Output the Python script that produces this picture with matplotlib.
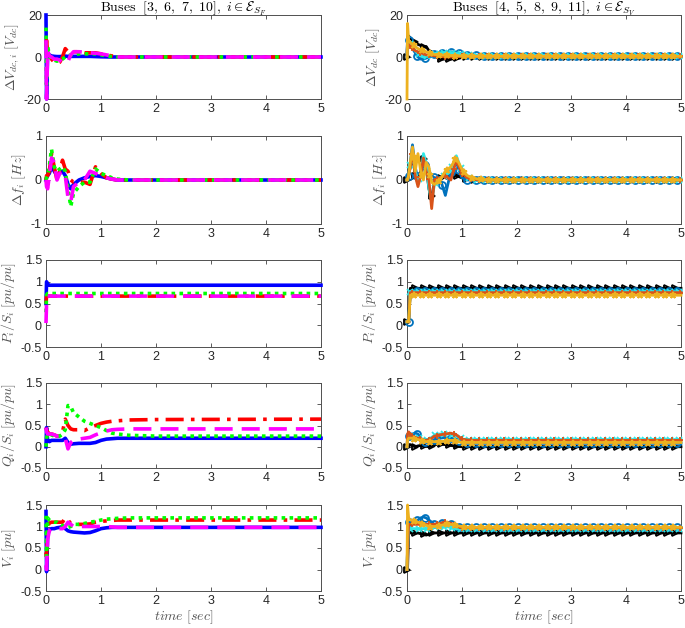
import numpy as np
import matplotlib
matplotlib.use("Agg")
import matplotlib.pyplot as plt

plt.rcParams["font.family"] = ["Liberation Sans", "DejaVu Sans"]
plt.rcParams["mathtext.fontset"] = "cm"

# shared sample times (sec)
t = [0, 0.01, 0.03, 0.06, 0.1, 0.15, 0.2, 0.25, 0.3, 0.35, 0.4, 0.45, 0.5,
     0.6, 0.7, 0.8, 0.9, 1.0, 1.1, 1.2, 1.3, 1.5, 2.0, 5.0]

# ---- left column: buses 3, 6, 7, 10 ----
vdc_b = [20, -20, 2, 1, 0.5, 0.3, 0.2, 0.2, 0.3, 0.4, 0.3, 0.3, 0.3, 0.3, 0.3, 0.3, 0.2, 0.1, 0.05, 0, 0, 0, 0, 0]
vdc_r = [5, 8, 2, 0.5, -1, -2.5, -3, -2.5, 0, 4, 2.5, 2, 2.5, 2.5, 2, 2, 2, 1.5, 1, 0.5, 0, 0, 0, 0]
vdc_g = [14, -13, 5, 1, -1, -1.5, -2, -1.5, -1, 0, 0.5, 1, 1, 1.5, 1.5, 1.5, 1.5, 1, 0.5, 0.2, 0, 0, 0, 0]
vdc_m = [8, -20, 3, 0.5, 0, -1, -1, -1.5, -2.5, -3, -2, 1, 2.5, 2.5, 2.3, 2, 1.8, 1.5, 1, 0.5, 0, 0, 0, 0]

f_b = [0, 0.05, 0.1, 0.15, 0.3, 0.2, 0.1, 0.15, 0.2, 0.1, -0.1, -0.2, -0.1, 0.0, 0.05, 0.08, 0.1, 0.08, 0.05, 0.02, 0, 0, 0, 0]
f_r = [0, 0.1, 0.1, 0.2, 0.6, 0.3, 0, 0.2, 0.45, 0.25, 0.2, 0, -0.05, -0.05, -0.05, -0.1, 0.3, 0.15, 0.05, 0.02, 0, 0, 0, 0]
f_g = [0, 0.05, 0.1, 0.3, 0.7, 0.3, 0.2, 0.25, 0.3, 0.2, -0.2, -0.6, -0.3, -0.15, -0.05, -0.05, 0.25, 0.15, 0.1, 0.05, 0.02, 0, 0, 0]
f_m = [0, -0.15, -0.2, 0.1, 0.5, 0.4, 0, 0.15, 0.2, 0.1, -0.4, -0.5, -0.15, -0.05, 0.0, 0.2, 0.15, 0.1, 0.05, 0.02, 0, 0, 0, 0]

p_b = [0.5, 1.0, 0.95] + [0.92] * 21
p_r = [0.5, 0.67, 0.67] + [0.67] * 21
p_g = [0.3, 0.7, 0.73] + [0.73] * 21
p_m = [0.05, 0.5, 0.67] + [0.67] * 21

q_b = [0, 0.45, 0.15, 0.12, 0.15, 0.15, 0.15, 0.15, 0.15, 0.2, 0.1, 0.06, 0.07, 0.08, 0.08, 0.08, 0.1, 0.15, 0.18, 0.19, 0.2, 0.2, 0.2, 0.2]
q_r = [0.45, 0.4, 0.35, 0.3, 0.3, 0.28, 0.25, 0.25, 0.35, 0.65, 0.5, 0.42, 0.4, 0.4, 0.38, 0.45, 0.5, 0.55, 0.58, 0.6, 0.61, 0.63, 0.64, 0.65]
q_g = [0, 0.2, 0.3, 0.3, 0.28, 0.25, 0.25, 0.25, 0.3, 0.4, 0.97, 0.95, 0.8, 0.7, 0.6, 0.55, 0.5, 0.45, 0.38, 0.32, 0.3, 0.27, 0.25, 0.25]
q_m = [0.45, 0.35, 0.3, 0.3, 0.3, 0.28, 0.25, 0.25, 0.25, 0.2, -0.05, 0.1, 0.15, 0.18, 0.2, 0.22, 0.28, 0.33, 0.37, 0.4, 0.41, 0.42, 0.42, 0.42]

v_b = [1.35, -0.05, 0.8, 0.92, 0.95, 0.95, 0.97, 0.98, 1.0, 0.95, 0.9, 0.88, 0.87, 0.86, 0.85, 0.86, 0.9, 0.95, 0.97, 0.98, 0.98, 0.98, 0.98, 0.98]
v_r = [0.4, 0.3, 1.0, 1.08, 1.1, 1.1, 1.1, 1.1, 1.1, 1.2, 1.15, 1.07, 1.05, 1.05, 1.05, 1.06, 1.1, 1.12, 1.13, 1.14, 1.15, 1.15, 1.15, 1.15]
v_g = [1.25, 0.3, 1.2, 1.15, 1.12, 1.1, 1.1, 1.05, 1.02, 1.0, 0.98, 1.0, 1.05, 1.05, 1.07, 1.1, 1.12, 1.15, 1.17, 1.18, 1.19, 1.2, 1.2, 1.2]
v_m = [0.1, 0.0, 0.7, 0.9, 0.95, 0.95, 0.95, 0.95, 0.95, 1.0, 1.1, 1.05, 1.0, 1.0, 1.0, 1.0, 1.0, 1.0, 1.0, 0.99, 0.98, 0.98, 0.98, 0.98]

# ---- right column: buses 4, 5, 8, 9, 11 ----
vdc_k = [0, 10, 10, 9, 8, 7, 6, 5.5, 5, 5, 3, 2, 1, -1, -1, -1, -0.8, -0.3, 0, 0, 0, 0, 0, 0]
vdc_bl = [0, 8, 8, 6, 4, 2, 0, -1, -1, -0.5, 0, 0.5, 1.5, 2, 2.2, 2.5, 2, 1.5, 1, 1, 0.8, 0.5, 0.5, 0.5]
vdc_c = [0, 7, 7, 6, 5, 3, 1.5, 0.5, 0, 0.5, 1, 1, 1.5, 2, 2, 2, 1.8, 1.2, 1, 0.8, 0.6, 0.5, 0.5, 0.5]
vdc_o = [0, 6, 6, 5, 4, 3, 2.5, 2, 1.5, 1, 1, 0.8, 0.5, 0.3, 0, 0, 0.2, 0.3, 0.3, 0.3, 0.3, 0.3, 0.3, 0.3]
vdc_y = [-20, 16, 8, 7, 6, 5, 4, 3.5, 3, 2.5, 2, 1.5, 1.2, 1, 0.8, 0.7, 0.6, 0.5, 0.4, 0.3, 0.3, 0.3, 0.3, 0.3]

f_k = [0, 0, 0.1, 0.3, 0.6, 0.1, 0, 0.2, 0.5, 0.3, -0.2, -0.45, 0, 0.05, 0.1, 0.1, 0.1, 0.05, 0.02, 0.01, 0, 0, 0, 0]
f_bl = [0, 0, 0.1, 0.4, 0.8, 0.3, 0, 0.1, 0.3, 0.35, 0.2, 0.1, 0.05, 0.05, -0.35, 0.2, 0.4, 0.05, 0, 0, 0, 0, 0, 0]
f_c = [0, 0, 0.1, 0.35, 0.7, 0.2, 0, 0.1, 0.6, 0.4, -0.2, -0.5, -0.1, 0.05, 0.1, 0.2, 0.55, 0.2, 0.05, 0.02, 0, 0, 0, 0]
f_o = [0, 0, 0.1, 0.3, 0.7, 0.1, -0.15, 0.1, 0.5, 0.2, 0, -0.65, 0, 0.05, 0.1, 0.0, 0.45, 0.15, 0.05, 0.02, 0, 0, 0, 0]
f_y = [0, 0, 0.1, 0.4, 0.75, 0.2, 0.6, 0.2, 0, 0.4, 0.3, -0.05, -0.1, 0.0, 0.2, 0.3, 0.5, 0.25, 0.1, 0.05, 0.02, 0, 0, 0]

p_k = [0.08, 0.08, 0.08] + [0.85] * 21
p_bl = [0.08, 0.08, 0.08] + [0.79] * 21
p_c = [0.08, 0.08, 0.08] + [0.77] * 21
p_o = [0.08, 0.08, 0.08] + [0.75] * 21
p_y = [0.08, 0.08, 0.08] + [0.69] * 21

q_k = [0, 0, 0.05, 0.05, 0.02, 0.0, 0.02, 0.03, 0.02, 0.01, 0.0, 0.02, 0.05, 0.06, 0.05, 0.03, 0.01, 0, 0, 0, 0, 0, 0, 0]
q_bl = [0, 0.2, 0.25, 0.28, 0.3, 0.32, 0.3, 0.2, 0.12, 0.1, 0.1, 0.12, 0.17, 0.2, 0.22, 0.2, 0.18, 0.1, 0.08, 0.08, 0.08, 0.08, 0.08, 0.08]
q_c = [0, 0.2, 0.25, 0.25, 0.25, 0.22, 0.2, 0.18, 0.16, 0.15, 0.18, 0.22, 0.27, 0.3, 0.3, 0.3, 0.25, 0.18, 0.17, 0.17, 0.17, 0.17, 0.17, 0.17]
q_o = [0, 0.3, 0.35, 0.3, 0.25, 0.22, 0.2, 0.18, 0.16, 0.15, 0.17, 0.2, 0.25, 0.28, 0.3, 0.32, 0.28, 0.18, 0.16, 0.15, 0.15, 0.15, 0.15, 0.15]
q_y = [0, 0.15, 0.2, 0.2, 0.2, 0.18, 0.17, 0.15, 0.13, 0.12, 0.12, 0.12, 0.12, 0.12, 0.13, 0.15, 0.13, 0.1, 0.1, 0.1, 0.1, 0.1, 0.1, 0.1]

v_k = [0, 0, 0.9, 0.85, 0.85, 0.85, 0.85, 0.83, 0.82, 0.8, 0.82, 0.85, 0.85, 0.85, 0.85, 0.85, 0.85, 0.85, 0.85, 0.85, 0.85, 0.85, 0.85, 0.85]
v_bl = [0, 0.5, 1.1, 1.1, 1.1, 1.15, 1.15, 1.2, 1.22, 1.2, 1.15, 1.1, 1.05, 1.08, 1.1, 1.05, 1.0, 0.98, 0.98, 0.98, 0.98, 0.98, 0.98, 0.98]
v_c = [0, 0.5, 1.0, 0.95, 0.95, 0.95, 0.95, 0.95, 0.95, 0.95, 0.95, 0.98, 1.0, 1.0, 1.0, 0.98, 0.95, 0.95, 0.95, 0.95, 0.95, 0.95, 0.95, 0.95]
v_o = [0, 0.5, 1.05, 1.05, 1.05, 1.05, 1.05, 1.05, 1.05, 1.05, 1.05, 1.05, 1.05, 1.07, 1.1, 1.08, 1.0, 0.97, 0.97, 0.97, 0.97, 0.97, 0.97, 0.97]
v_y = [0, 1.5, 1.2, 1.15, 1.15, 1.12, 1.1, 1.08, 1.05, 1.03, 1.0, 1.0, 1.0, 1.02, 1.05, 1.05, 1.02, 1.0, 0.98, 0.98, 0.98, 0.98, 0.98, 0.98]

left_series = [
    [vdc_b, vdc_r, vdc_g, vdc_m],
    [f_b, f_r, f_g, f_m],
    [p_b, p_r, p_g, p_m],
    [q_b, q_r, q_g, q_m],
    [v_b, v_r, v_g, v_m],
]
right_series = [
    [vdc_k, vdc_bl, vdc_c, vdc_o, vdc_y],
    [f_k, f_bl, f_c, f_o, f_y],
    [p_k, p_bl, p_c, p_o, p_y],
    [q_k, q_bl, q_c, q_o, q_y],
    [v_k, v_bl, v_c, v_o, v_y],
]

ylabels_left = [r"$\Delta V_{dc,i}\ [V_{dc}]$", r"$\Delta f_i\ [Hz]$", r"$P_i/S_i\ [pu/pu]$",
                r"$Q_i/S_i\ [pu/pu]$", r"$V_i\ [pu]$"]
ylabels_right = [r"$\Delta V_{dc}\ [V_{dc}]$", r"$\Delta f_i\ [Hz]$", r"$P_i/S_i\ [pu/pu]$",
                 r"$Q_i/S_i\ [pu/pu]$", r"$V_i\ [pu]$"]
ylims = [(-20, 20), (-1, 1), (-0.5, 1.5), (-0.5, 1.5), (-0.5, 1.5)]
yticks = [[-20, 0, 20], [-1, 0, 1], [-0.5, 0, 0.5, 1, 1.5], [-0.5, 0, 0.5, 1, 1.5], [-0.5, 0, 0.5, 1, 1.5]]
ytick_labels = [["-20", "0", "20"], ["-1", "0", "1"]] + [["-0.5", "0", "0.5", "1", "1.5"]] * 3

left_styles = [
    dict(color="#0000FF", ls="-"),
    dict(color="#FF0000", ls=(0, (5, 2, 1, 2))),
    dict(color="#00FF00", ls=(0, (1, 1.2))),
    dict(color="#FF00FF", ls=(0, (5, 2.5))),
]
right_styles = [
    dict(color="black", marker=">"),
    dict(color="#0072BD", marker="o"),
    dict(color="#2EE6E6", marker="x"),
    dict(color="#D95319", marker="+"),
    dict(color="#EDB120", marker="*"),
]

rows_px = [(15, 99), (136, 224), (260, 347), (383, 468), (505, 591)]
W, H = 685, 628

fig = plt.figure(figsize=(W / 100, H / 100), dpi=100)
tv = np.array(t)
mark_t = np.arange(0, 5.001, 0.153)


def style_axes(ax, r, label):
    ax.set_xlim(0, 5)
    ax.set_ylim(*ylims[r])
    ax.set_xticks([0, 1, 2, 3, 4, 5])
    ax.set_yticks(yticks[r])
    ax.set_yticklabels(ytick_labels[r])
    ax.tick_params(direction="in", length=3, width=0.6, top=True, right=True,
                   labelsize=9, colors="#404040", labelcolor="#262626", pad=3)
    for s in ax.spines.values():
        s.set_color("#505050")
        s.set_linewidth(0.7)
    ax.set_ylabel(label, fontsize=10, color="#555555", labelpad=2)
    if r == 4:
        ax.set_xlabel(r"$time\ [sec]$", fontsize=10, color="#555555", labelpad=1)


for r, (top, bot) in enumerate(rows_px):
    y0 = 1 - bot / H
    h = (bot - top) / H

    axl = fig.add_axes([46 / W, y0, 275 / W, h])
    for data, st in zip(left_series[r], left_styles):
        axl.plot(tv, data, lw=2.6, color=st["color"], ls=st["ls"], clip_on=False, zorder=3)
    style_axes(axl, r, ylabels_left[r])

    axr = fig.add_axes([407 / W, y0, 274 / W, h])
    for k, (data, st) in enumerate(zip(right_series[r], right_styles)):
        axr.plot(tv, data, lw=2.0, color=st["color"], clip_on=False, zorder=3)
        mt = mark_t + 0.03 * k
        mt = mt[mt <= 5]
        axr.plot(mt, np.interp(mt, tv, data), ls="none", marker=st["marker"],
                 ms=5, mfc="none", mec=st["color"], mew=1.3, clip_on=False, zorder=3)
    style_axes(axr, r, ylabels_right[r])

    if r == 0:
        axl.set_title(r"$\mathrm{Buses}\ \ [3,\ 6,\ 7,\ 10],\ i \in \mathcal{E}_{S_F}$",
                      fontsize=10, pad=2)
        axr.set_title(r"$\mathrm{Buses}\ \ [4,\ 5,\ 8,\ 9,\ 11],\ i \in \mathcal{E}_{S_V}$",
                      fontsize=10, pad=2)

fig.savefig("out.png", dpi=100)
